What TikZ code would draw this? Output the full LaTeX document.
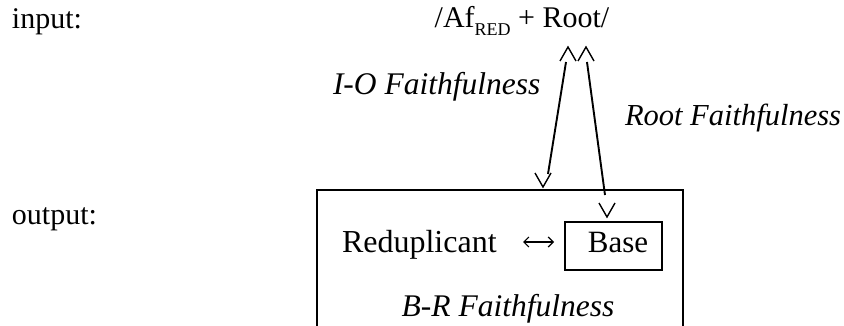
\documentclass[tikz,border=0pt]{standalone}
\usepackage{fontspec}
\setmainfont{Liberation Serif}
\usetikzlibrary{arrows.meta}
\begin{document}
\begin{tikzpicture}[x=1pt,y=-1pt,
  txt/.style={inner sep=0pt,outer sep=0pt,font=\fontsize{30}{36}\selectfont},
  bar/.style={line width=1.9pt},
  vee/.style={line width=1.4pt,line join=miter},
  small/.tip={Straight Barb[length=5pt,width=10pt,line width=1.2pt]}]
\useasboundingbox (0,0) rectangle (844,326);
% labels
\node[txt,anchor=base west] (in) at (12,29) {input:};
\node[txt,anchor=base west] (out) at (12,225) {output:};
\node[txt,anchor=base] (inp) at (522,28) {/Af\raisebox{-8pt}{\fontsize{18}{20}\selectfont RED} + Root/};
\node[txt,anchor=base west,font=\fontsize{31.5}{36}\selectfont\itshape] (io) at (333,95) {I-O Faithfulness};
\node[txt,anchor=base west,font=\fontsize{30.5}{36}\selectfont\itshape] (rf) at (625,126) {Root Faithfulness};
% output box
\draw[bar] (317,330) -- (317,190) -- (683,190) -- (683,330);
\node[txt,anchor=base west,font=\fontsize{32}{36}\selectfont] (red) at (342,252) {Reduplicant};
\node[draw,line width=1.6pt,minimum width=97pt,minimum height=48pt,inner sep=0pt] (base) at (613.5,246) {};
\node[txt,anchor=base,font=\fontsize{31}{36}\selectfont] (bt) at (618,252) {Base};
\node[txt,anchor=base,font=\fontsize{31.5}{36}\selectfont\itshape] (br) at (508,316) {B-R Faithfulness};
% double arrow symbol
\coordinate (la) at (523,242);
\coordinate (ra) at (554,242);
\draw[line width=1.2pt,{small}-{small}] (la) -- (ra);
% connectors
\coordinate (t1) at (566,62);
\coordinate (b1) at (548,174);
\coordinate (t2) at (587,62);
\coordinate (b2) at (605,195);
\draw[bar] (t1) -- (b1);
\draw[bar] (t2) -- (b2);
% arrowheads
\draw[vee] (560,61) -- (568,47) -- (576,61);
\draw[vee] (578,61) -- (586,47) -- (594,61);
\draw[vee] (535,173) -- (543,187) -- (551,173);
\draw[vee] (599,203) -- (607,217) -- (615,203);
\end{tikzpicture}
\end{document}
